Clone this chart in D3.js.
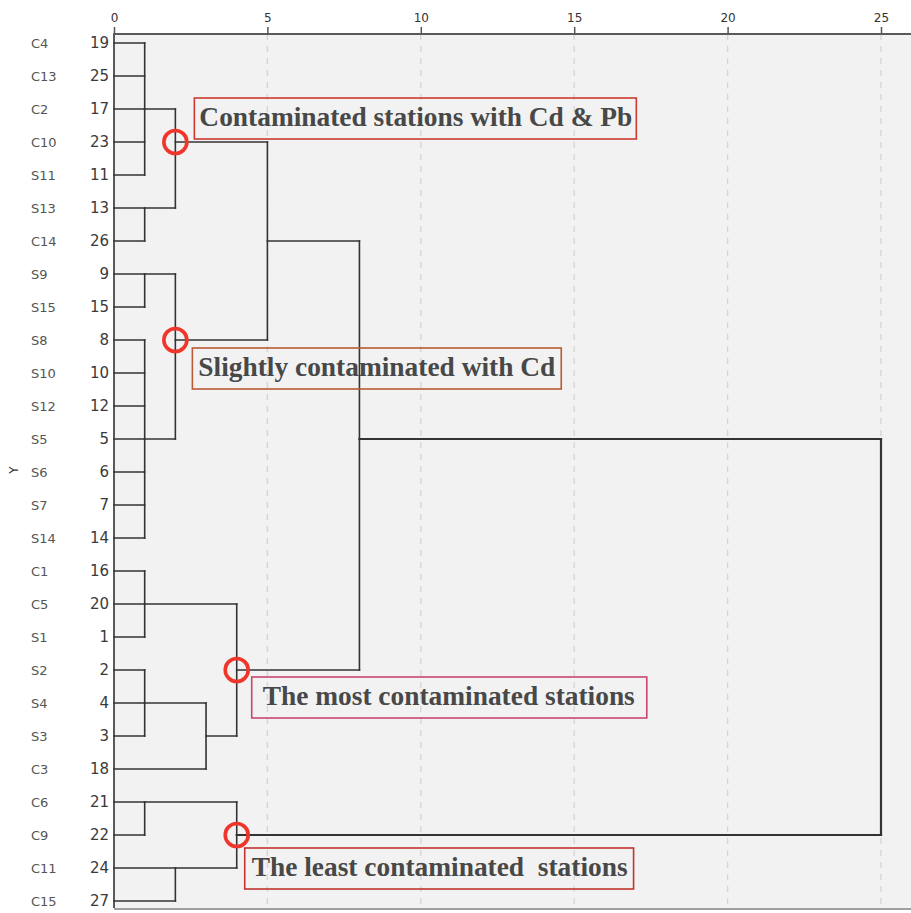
<!DOCTYPE html>
<html>
<head>
<meta charset="utf-8">
<script src="https://cdn.jsdelivr.net/npm/d3@7"></script>
<style>
  html, body { margin: 0; padding: 0; background: #ffffff; }
  svg { display: block; }
</style>
</head>
<body>
<svg id="chart" width="911" height="913"></svg>
<script>
// Station labels and case numbers, in dendrogram (leaf) order
const stationLabels = ["C4","C13","C2","C10","S11","S13","C14","S9","S15","S8","S10","S12","S5","S6","S7","S14","C1","C5","S1","S2","S4","S3","C3","C6","C9","C11","C15"];
const caseNumbers = [19,25,17,23,11,13,26,9,15,8,10,12,5,6,7,14,16,20,1,2,4,3,18,21,22,24,27];

// Rescaled distance axis ticks
const xTickValues = [0, 5, 10, 15, 20, 25];

// Agglomeration steps: members (case numbers or earlier cluster ids),
// rescaled joining distance and the row the joined cluster continues from
const clusterIds = ["k1","k2","k3","k4","k5","k6","k7","k8","k9","k10","k11","k12","k13","k14","k15","k16"];
const clusterMembers = [
  [19,25,17,23,11], [13,26], ["k1","k2"],
  [9,15], [8,10,12,5,6,7,14], ["k4","k5"],
  ["k3","k6"],
  [16,20,1], [2,4,3], ["k9",18], ["k8","k10"],
  ["k7","k11"],
  [21,22], [24,27], ["k13","k14"],
  ["k12","k15"]
];
const clusterHeights = [1,1,2, 1,1,2, 5, 1,1,3,4, 8, 1,2,4, 25];
const clusterRows = [17,13,23, 9,5,8, 26, 20,4,3,2, 5, 21,24,22, 5];

// Group annotations and the clusters they mark
const annotationTexts = [
  "Contaminated stations with Cd & Pb",
  "Slightly contaminated with Cd",
  "The most contaminated stations",
  "The least contaminated  stations"
];
const annotationClusters = ["k3","k6","k11","k15"];

// ---- layout ----
const W = 911, H = 913;
const plotLeft = 114, plotTop = 34, plotBottom = 908;
const svg = d3.select("#chart");

const x = d3.scaleLinear().domain([0, 25]).range([114, 881]);
const y = d3.scalePoint().domain(caseNumbers).range([43, 901]);

// plot background
svg.append("rect")
  .attr("x", plotLeft).attr("y", plotTop)
  .attr("width", W - plotLeft).attr("height", plotBottom - plotTop)
  .attr("fill", "#f2f2f2");

// dashed vertical grid lines
svg.append("g").selectAll("line")
  .data(xTickValues.filter(d => d > 0))
  .join("line")
  .attr("x1", d => x(d)).attr("x2", d => x(d))
  .attr("y1", plotTop).attr("y2", plotBottom)
  .attr("stroke", "#d6d6d6").attr("stroke-width", 1.4)
  .attr("stroke-dasharray", "6,6");

// bottom frame line
svg.append("line")
  .attr("x1", plotLeft).attr("x2", W)
  .attr("y1", plotBottom + 1).attr("y2", plotBottom + 1)
  .attr("stroke", "#a0a0a0").attr("stroke-width", 2);

// top axis
const xAxis = d3.axisTop(x).tickValues(xTickValues).tickSize(7).tickPadding(5);
const gx = svg.append("g").attr("transform", `translate(0,${plotTop})`).call(xAxis);
gx.select(".domain").remove();
gx.selectAll(".tick line").attr("stroke", "#555").attr("stroke-width", 1.5);
gx.selectAll(".tick text")
  .attr("font-family", "DejaVu Sans, sans-serif").attr("font-size", 12)
  .attr("fill", "#333");
svg.append("line")
  .attr("x1", plotLeft - 1).attr("x2", W)
  .attr("y1", plotTop).attr("y2", plotTop)
  .attr("stroke", "#5a5a5a").attr("stroke-width", 2);

// left axis with case numbers
const yAxis = d3.axisLeft(y).tickSize(0).tickPadding(5);
const gy = svg.append("g").attr("transform", `translate(${plotLeft},0)`).call(yAxis);
gy.select(".domain").remove();
gy.selectAll(".tick text")
  .attr("font-family", "DejaVu Sans, sans-serif").attr("font-size", 15)
  .attr("fill", "#3a3a3a");
svg.append("line")
  .attr("x1", plotLeft).attr("x2", plotLeft)
  .attr("y1", plotTop).attr("y2", plotBottom)
  .attr("stroke", "#5a5a5a").attr("stroke-width", 2);

// station labels
svg.append("g").selectAll("text")
  .data(caseNumbers)
  .join("text")
  .attr("x", 31).attr("y", d => y(d))
  .attr("dy", "0.35em")
  .attr("font-family", "DejaVu Sans, sans-serif").attr("font-size", 13)
  .attr("fill", "#555")
  .text((d, i) => stationLabels[i]);

// axis title
svg.append("text")
  .attr("transform", "translate(18,470) rotate(-90)")
  .attr("text-anchor", "middle")
  .attr("font-family", "DejaVu Sans, sans-serif").attr("font-size", 12)
  .attr("fill", "#333")
  .text("Y");

// ---- dendrogram ----
const nodeInfo = new Map();
caseNumbers.forEach(c => nodeInfo.set(c, { h: 0, yPos: y(c) }));
const segs = [];
clusterIds.forEach((id, i) => {
  const h = clusterHeights[i];
  const xs = x(h);
  const kids = clusterMembers[i].map(m => nodeInfo.get(m));
  const isFinal = i === clusterIds.length - 1;
  kids.forEach(k => segs.push({ x1: x(k.h), x2: xs, y1: k.yPos, y2: k.yPos, final: isFinal }));
  const ys = kids.map(k => k.yPos);
  segs.push({ x1: xs, x2: xs, y1: d3.min(ys), y2: d3.max(ys), final: isFinal });
  nodeInfo.set(id, { h: h, yPos: y(clusterRows[i]) });
});

svg.append("g").selectAll("line")
  .data(segs)
  .join("line")
  .attr("x1", d => d.x1).attr("x2", d => d.x2)
  .attr("y1", d => d.y1).attr("y2", d => d.y2)
  .attr("stroke", "#333")
  .attr("stroke-width", d => d.final ? 2.2 : 1.6)
  .attr("stroke-linecap", "square");

// ---- annotations ----
const boxOffsets = [[19, -44], [17, 8], [15, 7], [8, 13]];
const boxPads = [[5, 4], [6, 6], [11, 12], [7, 6]];
const boxColors = ["#cc3a30", "#b95a34", "#c8466e", "#c0342c"];
const boxHeight = 41;

annotationClusters.forEach((cid, i) => {
  const n = nodeInfo.get(cid);
  const cx = x(n.h), cy = n.yPos;
  const g = svg.append("g");
  const bx = cx + boxOffsets[i][0], by = cy + boxOffsets[i][1];
  const rect = g.append("rect")
    .attr("x", bx).attr("y", by).attr("height", boxHeight)
    .attr("fill", "none").attr("stroke", boxColors[i]).attr("stroke-width", 1.6);
  const t = g.append("text")
    .attr("x", bx + boxPads[i][0]).attr("y", by + 28)
    .attr("font-family", "Liberation Serif, Times New Roman, serif")
    .attr("font-weight", "bold").attr("font-size", 27.4)
    .attr("fill", "#484848")
    .style("white-space", "pre")
    .text(annotationTexts[i]);
  const tw = t.node().getComputedTextLength();
  rect.attr("width", tw + boxPads[i][0] + boxPads[i][1]);

  svg.append("circle")
    .attr("cx", cx).attr("cy", cy).attr("r", 11.5)
    .attr("fill", "none").attr("stroke", "#f0362a").attr("stroke-width", 3.6);
});
</script>
</body>
</html>
